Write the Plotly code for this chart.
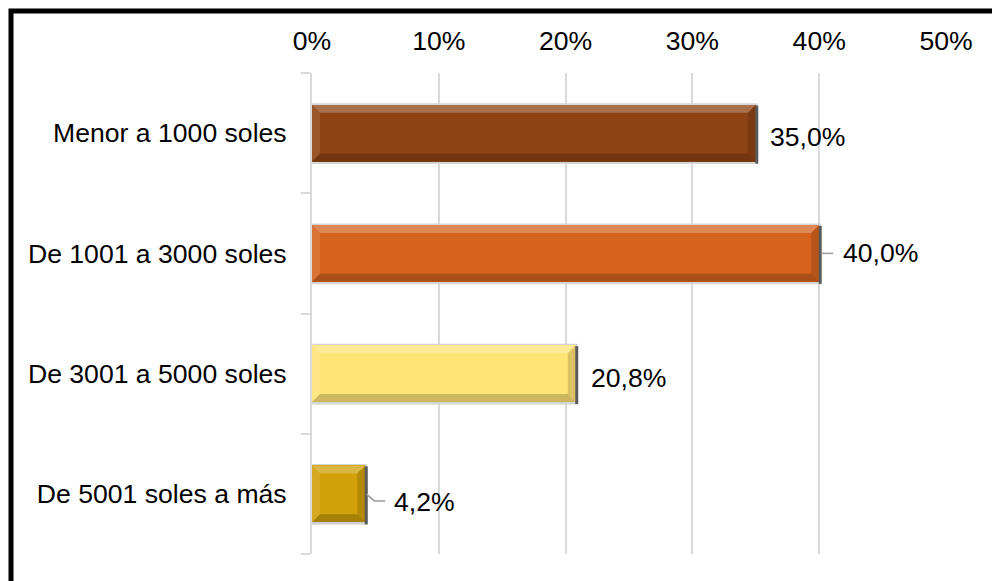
import plotly.graph_objects as go

# Ingreso mensual familiar (porcentaje de encuestados)
categorias = ["Menor a 1000 soles", "De 1001 a 3000 soles",
              "De 3001 a 5000 soles", "De 5001 soles a más"]
porcentajes = [35.0, 40.0, 20.8, 4.2]
colores = ["#8e4314", "#d5621d", "#ffe476", "#d1a10a"]
ticks_x = [0, 10, 20, 30, 40, 50]
ticks_x_texto = ["0%", "10%", "20%", "30%", "40%", "50%"]

# Geometry of the figure (pixels)
W, H = 992, 581
ML, MR, MT, MB = 312, 46, 73, 27
XMAX = 50
PW = W - ML - MR
PH = H - MT - MB
KX = PW / XMAX               # pixels per percentage point
KY = PH / len(categorias)    # pixels per category band
ANCHO = 0.474                # bar thickness (category units)
BISEL = 8                    # bevel size in pixels
FUENTE = "Liberation Sans, Arial, sans-serif"
TAM = 26.6

# label placement (pixel offsets from bar end)
desp_x = [12, 22, 13, 27]
desp_y = [4, 0, 4, 8]

fig = go.Figure()
fig.add_trace(go.Bar(
    x=porcentajes, y=list(range(len(categorias))), orientation="h",
    width=ANCHO, marker=dict(color=colores, line=dict(width=0)),
    hoverinfo="skip", showlegend=False,
))

shapes = []
h = ANCHO / 2
bx, by = BISEL / KX, BISEL / KY
for i, v in enumerate(porcentajes):
    top, bot = i - h, i + h
    # soft outline / shadow behind each bar
    shapes.append(dict(type="rect", xref="x", yref="y", layer="between",
                       x0=0, x1=v + 2 / KX, y0=top - 1.5 / KY, y1=bot + 2.5 / KY,
                       fillcolor="#d4d4d4", line=dict(width=0)))
    # bevel: light top/left, dark bottom/right
    shapes.append(dict(type="path", xref="x", yref="y", layer="above",
                       path=f"M 0,{top} L {v},{top} L {v - bx},{top + by} L {bx},{top + by} Z",
                       fillcolor="rgba(255,255,255,0.24)", line=dict(width=0)))
    shapes.append(dict(type="path", xref="x", yref="y", layer="above",
                       path=f"M 0,{top} L {bx},{top + by} L {bx},{bot - by} L 0,{bot} Z",
                       fillcolor="rgba(255,255,255,0.10)", line=dict(width=0)))
    shapes.append(dict(type="path", xref="x", yref="y", layer="above",
                       path=f"M 0,{bot} L {bx},{bot - by} L {v - bx},{bot - by} L {v},{bot} Z",
                       fillcolor="rgba(0,0,0,0.20)", line=dict(width=0)))
    shapes.append(dict(type="path", xref="x", yref="y", layer="above",
                       path=f"M {v},{top} L {v},{bot} L {v - bx},{bot - by} L {v - bx},{top + by} Z",
                       fillcolor="rgba(0,0,0,0.14)", line=dict(width=0)))
    # dark right edge
    shapes.append(dict(type="rect", xref="x", yref="y", layer="above",
                       x0=v - 0.5 / KX, x1=v + 2.5 / KX, y0=top + 1 / KY, y1=bot + 2 / KY,
                       fillcolor="#595959", line=dict(width=0)))

# leader lines for labels pushed away from the bar
v = porcentajes[1]
shapes.append(dict(type="path", xref="x", yref="y", layer="above",
                   path=f"M {v + 2 / KX},1 L {v + 14 / KX},1",
                   line=dict(color="#9a9a9a", width=1.5)))
v = porcentajes[3]
shapes.append(dict(type="path", xref="x", yref="y", layer="above",
                   path=(f"M {v + 1 / KX},3 L {v + 9 / KX},{3 + 7 / KY} "
                         f"L {v + 20 / KX},{3 + 7 / KY}"),
                   line=dict(color="#9a9a9a", width=1.5)))

# black frame around the chart
def px_x(p):
    return (p - ML) / PW

def px_y(p):
    return 1 - (p - MT) / PH

shapes.append(dict(type="rect", xref="paper", yref="paper", layer="above",
                   x0=px_x(11), x1=px_x(1010), y0=px_y(11), y1=px_y(600),
                   line=dict(color="black", width=5), fillcolor="rgba(0,0,0,0)"))

anotaciones = []
for i, v in enumerate(porcentajes):
    anotaciones.append(dict(
        x=v, y=i, xref="x", yref="y", xanchor="left", yanchor="middle",
        xshift=desp_x[i], yshift=-desp_y[i], showarrow=False,
        text=f"{v:.1f}".replace(".", ",") + "%",
        font=dict(family=FUENTE, size=TAM, color="black"),
    ))

fig.update_layout(
    width=W, height=H, margin=dict(l=ML, r=MR, t=MT, b=MB, autoexpand=False),
    paper_bgcolor="white", plot_bgcolor="white",
    font=dict(family=FUENTE, size=TAM, color="black"),
    shapes=shapes, annotations=anotaciones, bargap=0,
    xaxis=dict(side="top", range=[0, XMAX], tickmode="array", tickvals=ticks_x,
               ticktext=ticks_x_texto, showgrid=True, gridcolor="#d9d9d9",
               gridwidth=2, zeroline=False, showline=False, ticks="",
               ticklabelstandoff=17, fixedrange=True),
    yaxis=dict(range=[len(categorias) - 0.5, -0.5], tickmode="array",
               tickvals=list(range(len(categorias))), ticktext=categorias,
               showgrid=False, zeroline=False, showline=True,
               linecolor="#d9d9d9", linewidth=2, ticks="",
               minor=dict(tickmode="array",
                          tickvals=[k - 0.5 for k in range(len(categorias) + 1)],
                          ticks="outside", ticklen=9, tickcolor="#d9d9d9",
                          tickwidth=2, showgrid=False),
               ticklabelstandoff=18, fixedrange=True),
)

fig.write_html("out.html")
